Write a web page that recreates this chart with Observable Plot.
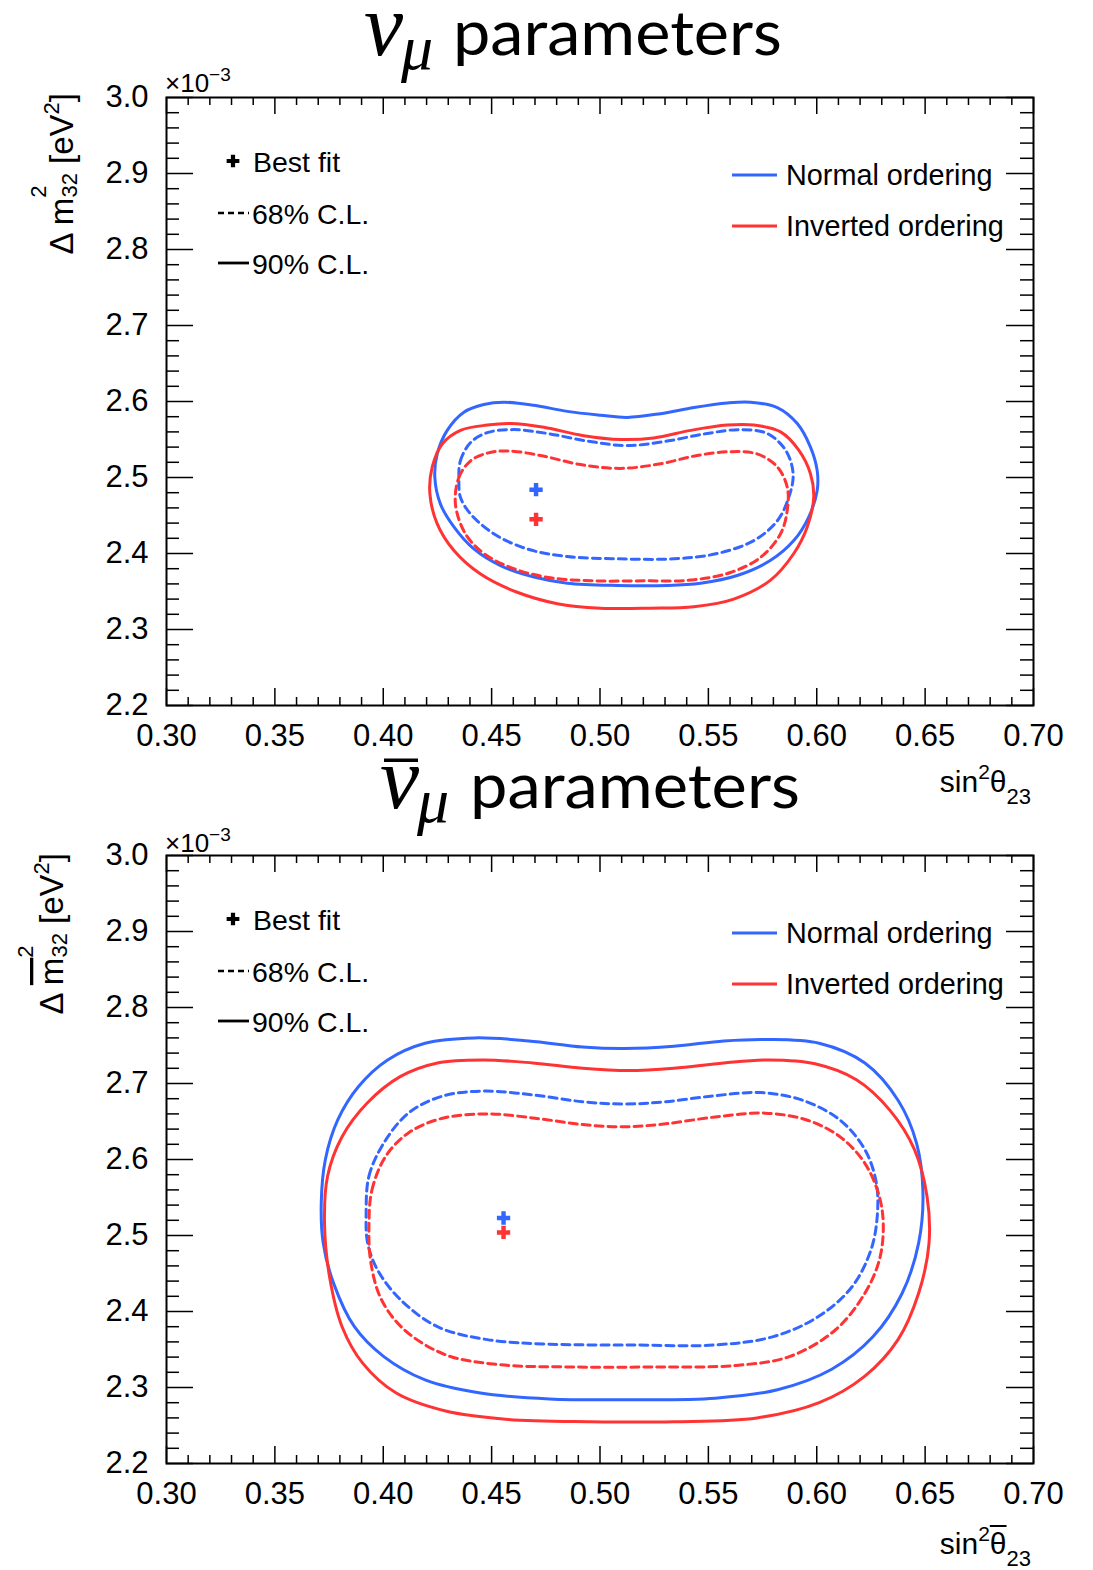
<!DOCTYPE html>
<html><head><meta charset="utf-8">
<script src="https://cdn.jsdelivr.net/npm/d3@7"></script>
<script src="https://cdn.jsdelivr.net/npm/@observablehq/plot@0.6"></script>
<style>
html,body{margin:0;padding:0;background:#fff;}
#wrap{position:relative;width:1093px;height:1570px;overflow:hidden;background:#fff;}
#wrap svg{position:absolute;left:0;}
</style></head><body><div id="wrap"></div>
<script>
// ---------- tick labels ----------
const xTicks = [0.30,0.35,0.40,0.45,0.50,0.55,0.60,0.65,0.70];
const yTicks = [2.2,2.3,2.4,2.5,2.6,2.7,2.8,2.9,3.0];

// ---------- nu_mu panel contours (sin^2 theta23, dm2_32 in 1e-3 eV^2) ----------
const nuNO90_s  = [0.4238,0.4249,0.4295,0.4372,0.4464,0.4556,0.4695,0.4849,0.5002,0.5125,0.5279,0.5433,0.5587,0.5694,0.5818,0.5910,0.5971,0.6002,0.6002,0.5963,0.5894,0.5787,0.5633,0.5464,0.5310,0.5079,0.4849,0.4695,0.4541,0.4418,0.4326,0.4264];
const nuNO90_dm = [2.500,2.531,2.562,2.586,2.596,2.599,2.595,2.587,2.582,2.579,2.584,2.592,2.598,2.599,2.592,2.571,2.540,2.509,2.483,2.448,2.417,2.391,2.371,2.361,2.358,2.358,2.361,2.369,2.384,2.406,2.435,2.465];
const nuIO90_s  = [0.4215,0.4226,0.4272,0.4356,0.4480,0.4587,0.4741,0.4925,0.5095,0.5248,0.5418,0.5587,0.5710,0.5833,0.5917,0.5971,0.5986,0.5956,0.5894,0.5787,0.5617,0.5433,0.5233,0.5002,0.4803,0.4618,0.4449,0.4326,0.4249];
const nuIO90_dm = [2.479,2.514,2.544,2.562,2.569,2.571,2.566,2.555,2.550,2.552,2.562,2.569,2.569,2.560,2.536,2.505,2.474,2.435,2.400,2.365,2.340,2.330,2.328,2.328,2.334,2.349,2.373,2.404,2.439];
const nuNO68_s  = [0.4349,0.4356,0.4403,0.4480,0.4602,0.4756,0.4941,0.5125,0.5310,0.5495,0.5648,0.5771,0.5856,0.5891,0.5871,0.5818,0.5710,0.5541,0.5341,0.5079,0.4849,0.4664,0.4510,0.4403,0.4356];
const nuNO68_dm = [2.496,2.522,2.546,2.559,2.563,2.558,2.548,2.542,2.548,2.558,2.563,2.558,2.536,2.505,2.474,2.443,2.417,2.400,2.393,2.393,2.396,2.406,2.426,2.452,2.474];
const nuIO68_s  = [0.4333,0.4349,0.4403,0.4480,0.4572,0.4725,0.4910,0.5095,0.5279,0.5448,0.5602,0.5725,0.5818,0.5864,0.5864,0.5833,0.5741,0.5602,0.5418,0.5202,0.4971,0.4772,0.4602,0.4464,0.4379];
const nuIO68_dm = [2.465,2.500,2.522,2.532,2.535,2.529,2.517,2.512,2.518,2.529,2.534,2.531,2.514,2.487,2.457,2.426,2.395,2.375,2.365,2.364,2.364,2.368,2.380,2.400,2.426];
const nuBest_s  = [0.4705, 0.4705];
const nuBest_dm = [2.484, 2.445];   // NO, IO

// ---------- anti-nu_mu panel contours ----------
const nubNO90_s  = [0.3714,0.3733,0.3790,0.3886,0.4020,0.4193,0.4422,0.4671,0.4920,0.5111,0.5341,0.5571,0.5762,0.6011,0.6222,0.6375,0.6461,0.6490,0.6470,0.6394,0.6260,0.6069,0.5819,0.5532,0.5150,0.4767,0.4441,0.4193,0.4001,0.3867,0.3771,0.3723];
const nubNO90_dm = [2.543,2.600,2.652,2.696,2.731,2.753,2.760,2.756,2.748,2.746,2.749,2.756,2.758,2.753,2.727,2.678,2.621,2.556,2.490,2.424,2.367,2.324,2.297,2.286,2.284,2.285,2.293,2.310,2.341,2.380,2.437,2.490];
const nubIO90_s  = [0.3729,0.3743,0.3810,0.3925,0.4078,0.4250,0.4461,0.4690,0.4920,0.5131,0.5341,0.5571,0.5781,0.5992,0.6183,0.6337,0.6451,0.6509,0.6518,0.6470,0.6375,0.6222,0.6011,0.5724,0.5341,0.4958,0.4576,0.4288,0.4058,0.3905,0.3810,0.3752];
const nubIO90_dm = [2.516,2.578,2.630,2.674,2.709,2.727,2.731,2.727,2.720,2.717,2.720,2.727,2.731,2.726,2.705,2.665,2.613,2.551,2.490,2.424,2.363,2.315,2.280,2.260,2.255,2.255,2.258,2.269,2.293,2.332,2.380,2.446];
const nubNO68_s  = [0.3921,0.3934,0.4001,0.4116,0.4269,0.4461,0.4690,0.4920,0.5111,0.5303,0.5532,0.5743,0.5934,0.6107,0.6222,0.6275,0.6279,0.6250,0.6164,0.6011,0.5800,0.5532,0.5150,0.4767,0.4480,0.4250,0.4078,0.3973,0.3928];
const nubNO68_dm = [2.529,2.578,2.621,2.661,2.683,2.690,2.685,2.676,2.673,2.676,2.684,2.688,2.678,2.652,2.613,2.569,2.525,2.481,2.433,2.394,2.367,2.356,2.356,2.357,2.363,2.380,2.416,2.455,2.490];
const nubIO68_s  = [0.3934,0.3948,0.4011,0.4116,0.4269,0.4480,0.4709,0.4920,0.5111,0.5303,0.5532,0.5762,0.5954,0.6107,0.6222,0.6289,0.6307,0.6289,0.6222,0.6087,0.5877,0.5628,0.5245,0.4863,0.4537,0.4288,0.4097,0.3991,0.3943];
const nubIO68_dm = [2.512,2.560,2.604,2.635,2.654,2.660,2.654,2.646,2.643,2.647,2.656,2.661,2.652,2.630,2.595,2.551,2.512,2.468,2.424,2.376,2.341,2.329,2.327,2.327,2.330,2.343,2.376,2.416,2.464];
const nubBest_s  = [0.4555, 0.4555];
const nubBest_dm = [2.523, 2.504];  // NO, IO

// ---------- style ----------
const BLUE = "#3366ff", RED = "#ff3333";
const FONT = "'Liberation Sans', Arial, Helvetica, sans-serif";
const W = 1093, H = 812, MT = 97, MB = 107, ML = 166, MR = 60;
const FW = W - ML - MR, FH = H - MT - MB;
const xMinor = d3.range(0.30, 0.7001, 0.01).filter(v => Math.abs(Math.round(v*100) % 5) !== 0);
const yMinor = d3.range(2.2, 3.0001, 0.02).filter(v => Math.abs(Math.round(v*100) % 10) !== 0);

const rows = (s, d) => s.map((v, i) => ({s: v, d: d[i]}));

function panel(c) {
  const contour = (s, d, color, dashed) => Plot.line(rows(s, d), {
    x: "s", y: "d", curve: "catmull-rom-closed", stroke: color, strokeWidth: 3,
    strokeDasharray: dashed ? "8,5" : null
  });
  const best = rows(c.best_s, c.best_dm).map((r, i) => ({...r, c: i === 0 ? BLUE : RED}));
  const svg = Plot.plot({
    width: W, height: H, marginTop: MT, marginBottom: MB, marginLeft: ML, marginRight: MR,
    x: {domain: [0.30, 0.70]},
    y: {domain: [2.2, 3.0]},
    style: {background: "transparent", fontFamily: FONT, overflow: "visible", color: "black"},
    marks: [
      Plot.ruleX(xTicks, {stroke: "black", strokeWidth: 1.5, insetTop: FH - 17}),
      Plot.ruleX(xTicks, {stroke: "black", strokeWidth: 1.5, insetBottom: FH - 17}),
      Plot.ruleX(xMinor, {stroke: "black", strokeWidth: 1.5, insetTop: FH - 8}),
      Plot.ruleX(xMinor, {stroke: "black", strokeWidth: 1.5, insetBottom: FH - 8}),
      Plot.ruleY(yTicks, {stroke: "black", strokeWidth: 1.5, insetRight: FW - 27}),
      Plot.ruleY(yTicks, {stroke: "black", strokeWidth: 1.5, insetLeft: FW - 27}),
      Plot.ruleY(yMinor, {stroke: "black", strokeWidth: 1.5, insetRight: FW - 13}),
      Plot.ruleY(yMinor, {stroke: "black", strokeWidth: 1.5, insetLeft: FW - 13}),
      Plot.frame({stroke: "black", strokeWidth: 2}),
      Plot.axisX(xTicks, {tickSize: 0, tickPadding: 18, tickFormat: d => d.toFixed(2), fontSize: 31, label: null}),
      Plot.axisY(yTicks, {tickSize: 0, tickPadding: 18, tickFormat: d => d.toFixed(1), fontSize: 31, label: null}),
      contour(c.no90_s, c.no90_dm, BLUE, false),
      contour(c.io90_s, c.io90_dm, RED, false),
      contour(c.no68_s, c.no68_dm, BLUE, true),
      contour(c.io68_s, c.io68_dm, RED, true),
      Plot.dot(best, {x: "s", y: "d", symbol: "cross", r: 5.6, fill: "c", stroke: null})
    ]
  });
  svg.style.top = c.top + "px";
  document.getElementById("wrap").appendChild(svg);
  const g = d3.select(svg).append("g").attr("font-family", FONT).attr("text-anchor", "start").attr("fill", "black");

  // title
  const tt = g.append("g");
  tt.append("text").attr("x", c.title.nu).attr("y", c.title.base)
    .attr("font-family", "'Liberation Serif', 'DejaVu Serif', serif").attr("font-style", "italic")
    .attr("font-size", 88).text("ν");
  tt.append("text").attr("x", c.title.mu).attr("y", c.title.base + 14)
    .attr("font-family", "'Liberation Serif', 'DejaVu Serif', serif").attr("font-style", "italic")
    .attr("font-size", 64).text("μ");
  tt.append("text").attr("x", c.title.p).attr("y", c.title.base)
    .attr("font-family", "Lato, 'Open Sans', sans-serif").attr("font-size", 61)
    .attr("textLength", c.title.len).attr("lengthAdjust", "spacingAndGlyphs").text("parameters");
  if (c.bar) {
    tt.append("rect").attr("x", c.title.nu + 4).attr("y", 0.5).attr("width", 34).attr("height", 3.5).attr("fill", "black");
  }

  // x10^-3
  const ex = g.append("text").attr("x", 165).attr("y", c.expBase).attr("font-size", 26);
  ex.append("tspan").text("×10");
  ex.append("tspan").attr("font-size", 19).attr("dy", -11).text("−3");

  // x-axis title
  const xt = g.append("text").attr("x", 1031).attr("y", c.xtBase).attr("text-anchor", "end").attr("font-size", 30);
  xt.append("tspan").text("sin");
  xt.append("tspan").attr("font-size", 21).attr("dy", -13).text("2");
  const th = xt.append("tspan").attr("dy", 13).text("θ");
  if (c.bar) th.attr("text-decoration", "overline");
  xt.append("tspan").attr("font-size", 22).attr("dy", 12).text("23");

  // y-axis title (rotated)
  const yt = g.append("text").attr("transform", `translate(${c.ytX},${c.ytTop}) rotate(-90)`)
    .attr("text-anchor", "end").attr("font-size", 33);
  yt.append("tspan").text("Δ ");
  const m = yt.append("tspan").text("m");
  if (c.bar) m.attr("text-decoration", "overline");
  yt.append("tspan").attr("font-size", 22).attr("dy", c.bar ? -30 : -27).text("2");
  yt.append("tspan").attr("font-size", 22).attr("dx", -12.2).attr("dy", c.bar ? 34 : 31).text("32");
  yt.append("tspan").attr("dy", -4).text(" [eV");
  yt.append("tspan").attr("font-size", 22).attr("dy", -14).text("2");
  yt.append("tspan").attr("dy", 14).text("]");

  // left legend
  g.append("path").attr("d", d3.symbol(d3.symbolCross, 90)()).attr("transform", "translate(233,161)").attr("fill", "black");
  g.append("text").attr("x", 253).attr("y", 172).attr("font-size", 28.5).text("Best fit");
  g.append("line").attr("x1", 218).attr("x2", 249).attr("y1", 213).attr("y2", 213)
    .attr("stroke", "black").attr("stroke-width", 2.5).attr("stroke-dasharray", "6,4");
  g.append("text").attr("x", 252).attr("y", 224).attr("font-size", 28.5).text("68% C.L.");
  g.append("line").attr("x1", 218).attr("x2", 249).attr("y1", 263).attr("y2", 263)
    .attr("stroke", "black").attr("stroke-width", 2.8);
  g.append("text").attr("x", 252).attr("y", 274).attr("font-size", 28.5).text("90% C.L.");

  // right legend
  g.append("line").attr("x1", 732).attr("x2", 777).attr("y1", 175).attr("y2", 175).attr("stroke", BLUE).attr("stroke-width", 3);
  g.append("text").attr("x", 786).attr("y", 185).attr("font-size", 28.8).text("Normal ordering");
  g.append("line").attr("x1", 732).attr("x2", 777).attr("y1", 226).attr("y2", 226).attr("stroke", RED).attr("stroke-width", 3);
  g.append("text").attr("x", 786).attr("y", 236).attr("font-size", 28.8).text("Inverted ordering");
}

panel({
  top: 0, bar: false,
  no90_s: nuNO90_s, no90_dm: nuNO90_dm, io90_s: nuIO90_s, io90_dm: nuIO90_dm,
  no68_s: nuNO68_s, no68_dm: nuNO68_dm, io68_s: nuIO68_s, io68_dm: nuIO68_dm,
  best_s: nuBest_s, best_dm: nuBest_dm,
  title: {nu: 364, mu: 401, p: 453, len: 329, base: 55},
  expBase: 92, xtBase: 792, ytX: 73, ytTop: 93
});
panel({
  top: 758, bar: true,
  no90_s: nubNO90_s, no90_dm: nubNO90_dm, io90_s: nubIO90_s, io90_dm: nubIO90_dm,
  no68_s: nubNO68_s, no68_dm: nubNO68_dm, io68_s: nubIO68_s, io68_dm: nubIO68_dm,
  best_s: nubBest_s, best_dm: nubBest_dm,
  title: {nu: 380, mu: 417, p: 470, len: 330, base: 50},
  expBase: 94, xtBase: 796, ytX: 63, ytTop: 95
});
</script></body></html>
